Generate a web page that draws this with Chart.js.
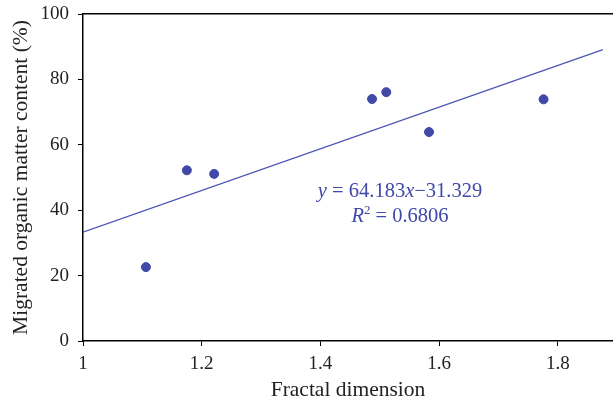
<!DOCTYPE html>
<html>
<head>
<meta charset="utf-8">
<script src="https://cdn.jsdelivr.net/npm/chart.js@4.4.1/dist/chart.umd.min.js"></script>
<style>
  html, body { margin: 0; padding: 0; background: #fff; }
  #wrap { width: 613px; height: 407px; }
</style>
</head>
<body>
<div id="wrap"><canvas id="chart"></canvas></div>
<script>
// measured points
const fractalDim = [1.106, 1.175, 1.221, 1.487, 1.511, 1.583, 1.776];
const migratedOM = [22.6, 52.2, 51.1, 74.0, 76.1, 63.9, 73.9];

// fitted line ends
const trendX = [1.0, 1.876];
const trendY = [33.3, 89.1];

const xTicks = [1, 1.2, 1.4, 1.6, 1.8];
const yTicks = [0, 20, 40, 60, 80, 100];

const blue = '#4048a8';
const serif = '"Liberation Serif", "DejaVu Serif", serif';

const equationLabel = {
  id: 'equationLabel',
  afterDatasetsDraw(chart) {
    const ctx = chart.ctx;
    const cx = 400;
    ctx.save();
    ctx.fillStyle = blue;
    ctx.textBaseline = 'alphabetic';
    const parts1 = [['y', true], [' = 64.183', false], ['x', true], ['\u221231.329', false]];
    const parts2 = [['R', true], ['2', false, true], [' = 0.6806', false]];
    function setFont(p) {
      ctx.font = (p[1] ? 'italic ' : '') + (p[2] ? '13px ' : '20.5px ') + serif;
    }
    function drawParts(parts, baseY) {
      let w = 0;
      parts.forEach(p => { setFont(p); w += ctx.measureText(p[0]).width; });
      let x = cx - w / 2;
      parts.forEach(p => {
        setFont(p);
        ctx.textAlign = 'left';
        ctx.fillText(p[0], x, p[2] ? baseY - 8 : baseY);
        x += ctx.measureText(p[0]).width;
      });
    }
    drawParts(parts1, 197);
    drawParts(parts2, 222);
    ctx.restore();
  }
};

new Chart(document.getElementById('chart'), {
  type: 'scatter',
  data: {
    datasets: [
      {
        data: fractalDim.map((x, i) => ({ x: x, y: migratedOM[i] })),
        backgroundColor: blue,
        borderColor: blue,
        pointRadius: 4.5,
        pointHoverRadius: 4.5
      },
      {
        type: 'line',
        data: trendX.map((x, i) => ({ x: x, y: trendY[i] })),
        borderColor: '#4d55b3',
        borderWidth: 1.3,
        pointRadius: 0,
        fill: false
      }
    ]
  },
  options: {
    responsive: true,
    maintainAspectRatio: false,
    animation: false,
    layout: { autoPadding: false, padding: { top: 14, right: 0, left: 0, bottom: 0 } },
    plugins: { legend: { display: false }, tooltip: { enabled: false } },
    scales: {
      x: {
        type: 'linear',
        min: 1,
        max: 1.893,
        afterBuildTicks: s => { s.ticks = xTicks.map(v => ({ value: v })); },
        afterFit: s => { s.height = 66; s.paddingLeft = 0; s.paddingRight = 0; },
        grid: { drawOnChartArea: false, tickLength: 5, color: '#000', lineWidth: 1 },
        border: { color: '#000', width: 1.5 },
        ticks: {
          color: '#222',
          font: { family: serif, size: 19 },
          padding: 7,
          maxRotation: 0,
          callback: v => String(v)
        },
        title: {
          display: true,
          text: 'Fractal dimension',
          color: '#222',
          font: { family: serif, size: 21.5 },
          padding: { top: 8 }
        }
      },
      x2: {
        type: 'linear',
        position: 'top',
        min: 1,
        max: 1.893,
        afterFit: s => { s.height = 0; s.paddingLeft = 0; s.paddingRight = 0; },
        grid: { display: false, drawTicks: false },
        border: { color: '#000', width: 1.5 },
        ticks: { display: false }
      },
      y: {
        min: 0,
        max: 100,
        afterBuildTicks: s => { s.ticks = yTicks.map(v => ({ value: v })); },
        afterFit: s => { s.width = 83; s.paddingTop = 0; s.paddingBottom = 0; },
        grid: { drawOnChartArea: false, tickLength: 5, color: '#000', lineWidth: 1 },
        border: { color: '#000', width: 1.5 },
        ticks: {
          color: '#222',
          font: { family: serif, size: 19 },
          padding: 9
        },
        title: {
          display: true,
          text: 'Migrated organic matter content (%)',
          color: '#222',
          font: { family: serif, size: 21.5 },
          padding: { top: 8, bottom: 4 }
        }
      }
    }
  },
  plugins: [equationLabel]
});
</script>
</body>
</html>
